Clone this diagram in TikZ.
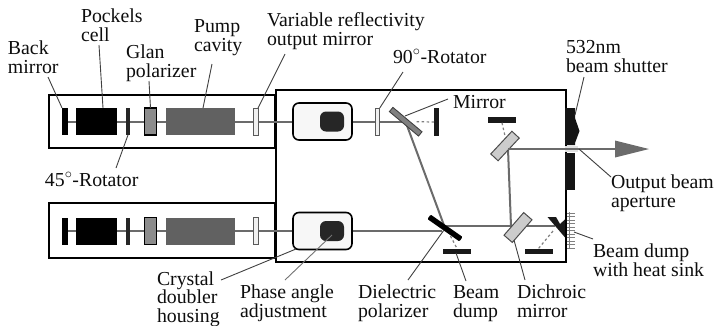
\documentclass[tikz,border=0pt]{standalone}
\usepackage{fontspec}
\setmainfont{Liberation Serif}
\definecolor{ink}{gray}{0.05}
\definecolor{beam}{gray}{0.42}
\definecolor{leadc}{gray}{0.25}
\tikzset{
  lab/.style={anchor=base west,inner sep=0pt,outer sep=0pt,align=left,text=ink,font=\fontsize{19.8}{18.3}\selectfont},
  comp/.style={rectangle,inner sep=0pt,outer sep=0pt,minimum width=#1},
  blackc/.style={comp=#1,minimum height=27pt,fill=black},
  darkc/.style={comp=#1,minimum height=27pt,fill=black!85},
  glan/.style={comp=12pt,minimum height=27pt,fill=black!45,draw=black,line width=1.3pt},
  pump/.style={comp=69pt,minimum height=27pt,fill=black!62},
  vrm/.style={comp=5pt,minimum height=27pt,fill=black!6,draw=black!65,line width=0.9pt},
  housing/.style={comp=59pt,minimum height=37pt,rounded corners=6pt,draw=black,line width=1.6pt,fill=black!3},
  crystal/.style={comp=24pt,minimum height=20pt,rounded corners=6pt,fill=black!85},
  bar/.style={comp=28pt,minimum height=5pt,fill=black!90},
  bsplit/.style={comp=#1,draw=black!70,line width=1pt,fill=black!20},
  leader/.style={draw=leadc,line width=0.9pt},
  lbeam/.style={draw=beam,line width=2pt},
  dump/.style={draw=black!50,line width=1.2pt,dash pattern=on 2.5pt off 2.5pt},
  wall/.style={draw=black,line width=2.2pt},
}
\begin{document}
\begin{tikzpicture}[x=1pt,y=-1pt]
\useasboundingbox (0,0) rectangle (716,325);
% enclosures
\node[comp=226pt,minimum height=53pt,wall,anchor=north west] (topbox) at (49,95) {};
\node[comp=226pt,minimum height=55pt,wall,anchor=north west] (botbox) at (49,203) {};
\node[comp=290.5pt,minimum height=172pt,draw=black,line width=2pt,fill=white,anchor=north west] (mainbox) at (275.5,90) {};
% coordinates on the optical paths
\coordinate (tl) at (65,121.5);
\coordinate (bl) at (65,231);
\coordinate (pol) at (445,228);
\coordinate (blend) at (442,231);
\coordinate (wedge) at (555,226);
\coordinate (dich) at (511,226);
\coordinate (ups) at (508,149);
\coordinate (upmir) at (405.5,121.5);
\coordinate (tip) at (649,149);
\coordinate (arrowbase) at (615,149);
% beams
\draw[lbeam] (tl) -- (upmir);
\draw[draw=beam,line width=2.6pt] (bl) -- (blend);
\draw[lbeam] (upmir) -- (pol);
\draw[lbeam] (pol |- wedge) -- (wedge);
\draw[lbeam] (dich) -- (ups);
% top laser
\node[blackc=5.5pt] (bm1) at (64.8,121.5) {};
\node[blackc=41pt] (pc1) at (96.5,121.5) {};
\node[darkc=4.5pt] (rot1) at (128,121.5) {};
\node[glan] (gl1) at (150.5,121.5) {};
\node[pump] (pu1) at (200.5,121.5) {};
\node[vrm] (vr1) at (255.5,121.5) {};
\node[housing] (ho1) at (322.5,121.5) {};
\node[crystal] (cr1) at (332,121.5) {};
% bottom laser
\node[blackc=5.5pt] (bm2) at (64.8,231) {};
\node[blackc=41pt] (pc2) at (96.5,231) {};
\node[darkc=4.5pt] (rot2) at (128,231) {};
\node[glan] (gl2) at (150.5,231) {};
\node[pump] (pu2) at (200.5,231) {};
\node[vrm] (vr2) at (255.5,231) {};
\node[housing] (ho2) at (322.5,231) {};
\node[crystal] (cr2) at (332,231) {};
% top-path optics
\node[vrm,comp=4.5pt] (rot90) at (377.5,121.5) {};
\node[comp=38pt,minimum height=5.5pt,fill=black!50,draw=black!75,line width=0.9pt,rotate=-40] (mir) at (405.7,121.7) {};
\node[comp=5pt,minimum height=28pt,fill=black!90] (mbar) at (436.5,122) {};
\draw[dump] (mir.center) ++(11,0) -- (mbar.west);
% polarizer and dump
\node[comp=39pt,minimum height=5.5pt,fill=black,rotate=-35,rounded corners=1pt] (diel) at (445,228) {};
\node[bar] (dump1) at (457,251) {};
\draw[dump] (450.5,236) -- (dump1.north);
% dichroics
\node[bsplit=30pt,minimum height=11pt,rotate=49] (dm1) at (518,227.5) {};
\draw[lbeam] (ups) -- (arrowbase);
\node[bsplit=31pt,minimum height=10pt,rotate=47] (dm2) at (505,146) {};
\draw[lbeam] (ups) -- (arrowbase);
\fill[beam] (arrowbase) ++(0,-8.5) -- (tip) -- ++(-34,8.5) -- cycle;
\node[bar,minimum width=28.5pt,minimum height=5.5pt] (dump2) at (502,120) {};
\draw[dump] (dump2.south) -- (dm2.center |- 0,136);
\node[bar] (dump3) at (538.5,251) {};
\draw[dump] (553,231) -- (dump3.north);
% heat sink dump
\fill[black!90] (547.5,217) -- (556,217) -- (560,224) -- (565.5,219) -- (565.5,238) -- cycle;
\draw[draw=black!50,line width=0.8pt] (569,212) -- (569,249);
\foreach \yy in {213,216.5,...,250} {
  \draw[draw=black!50,line width=0.7pt] (566,\yy) -- (575,\yy);
}
% main box right wall over sink
\draw[draw=black,line width=2pt] (566,90) -- (566,262);
% shutter
\fill[black!92] (565,108) -- (575,108) -- (575,118) -- (579.5,131) -- (575,143) -- (575,145) -- (565,145) -- cycle;
\fill[black!92] (565,153) -- (575,153) -- (575,190) -- (565,190) -- cycle;
\fill[black!12] (565,146) rectangle (578,152);
\draw[lbeam] (ups) -- (arrowbase);
% labels
\node[lab] (lBack) at (8,73) {Back\\mirror};
\node[lab] (lPock) at (81,41) {Pockels\\cell};
\node[lab] (lGlan) at (126,77) {Glan\\polarizer};
\node[lab] (lPump) at (194,51) {Pump\\cavity};
\node[lab] (lVar) at (267,45) {Variable reflectivity\\output mirror};
\node[lab] (l45) at (45,186) {45$^{\circ}$-Rotator};
\node[lab] (l90) at (393,63) {90$^{\circ}$-Rotator};
\node[lab] (lMir) at (453,108) {Mirror};
\node[lab] (l532) at (566,72) {532nm\\beam shutter};
\node[lab] (lOut) at (611,207) {Output beam\\aperture};
\node[lab] (lSink) at (593,276) {Beam dump\\with heat sink};
\node[lab] (lDiel) at (358,317) {Dielectric\\polarizer};
\node[lab] (lDump) at (453,317) {Beam\\dump};
\node[lab] (lDich) at (517,317) {Dichroic\\mirror};
\node[lab] (lCry) at (157,322) {Crystal\\doubler\\housing};
\node[lab] (lPhase) at (240,317) {Phase angle\\adjustment};
% leader ends next to the labels
\coordinate (e1) at (48,77);
\coordinate (e2) at (99,45);
\coordinate (e3) at (149,81);
\coordinate (e4) at (212,64);
\coordinate (e5) at (285,54);
\coordinate (e6) at (116,168);
\coordinate (e7) at (403,72);
\coordinate (e8) at (448,99);
\coordinate (e9) at (584,77);
\coordinate (e10) at (611,177);
\coordinate (e11) at (593,239);
\coordinate (e12) at (408,280);
\coordinate (e13) at (466,281);
\coordinate (e14) at (525,280);
\coordinate (e15) at (221,280);
\coordinate (e16) at (285,280);
\coordinate (s1) at (103,108);
\coordinate (s2) at (203,108);
\coordinate (s3) at (405,116);
\coordinate (s4) at (575,115);
\coordinate (s5) at (579,149);
\coordinate (s6) at (574,232);
\coordinate (s7) at (444,230);
\coordinate (s8) at (456,253);
\coordinate (s9) at (514,240);
\coordinate (s10) at (296,249);
\coordinate (s11) at (332,235);
\draw[leader] (e1) -- (bm1.north west);
\draw[leader] (e2) -- (s1);
\draw[leader] (e3) -- (gl1.north);
\draw[leader] (e4) -- (s2);
\draw[leader] (e5) -- (vr1.north east);
\draw[leader] (e6) -- (rot1.south);
\draw[leader] (e7) -- (rot90.north east);
\draw[leader] (e8) -- (s3);
\draw[leader] (e9) -- (s4);
\draw[leader] (e10) -- (s5);
\draw[leader] (e11) -- (s6);
\draw[leader] (e12) -- (s7);
\draw[leader] (e13) -- (s8);
\draw[leader] (e14) -- (s9);
\draw[leader] (e15) -- (s10);
\draw[draw=black!55,line width=0.9pt] (e16) -- (s11);
\end{tikzpicture}
\end{document}
